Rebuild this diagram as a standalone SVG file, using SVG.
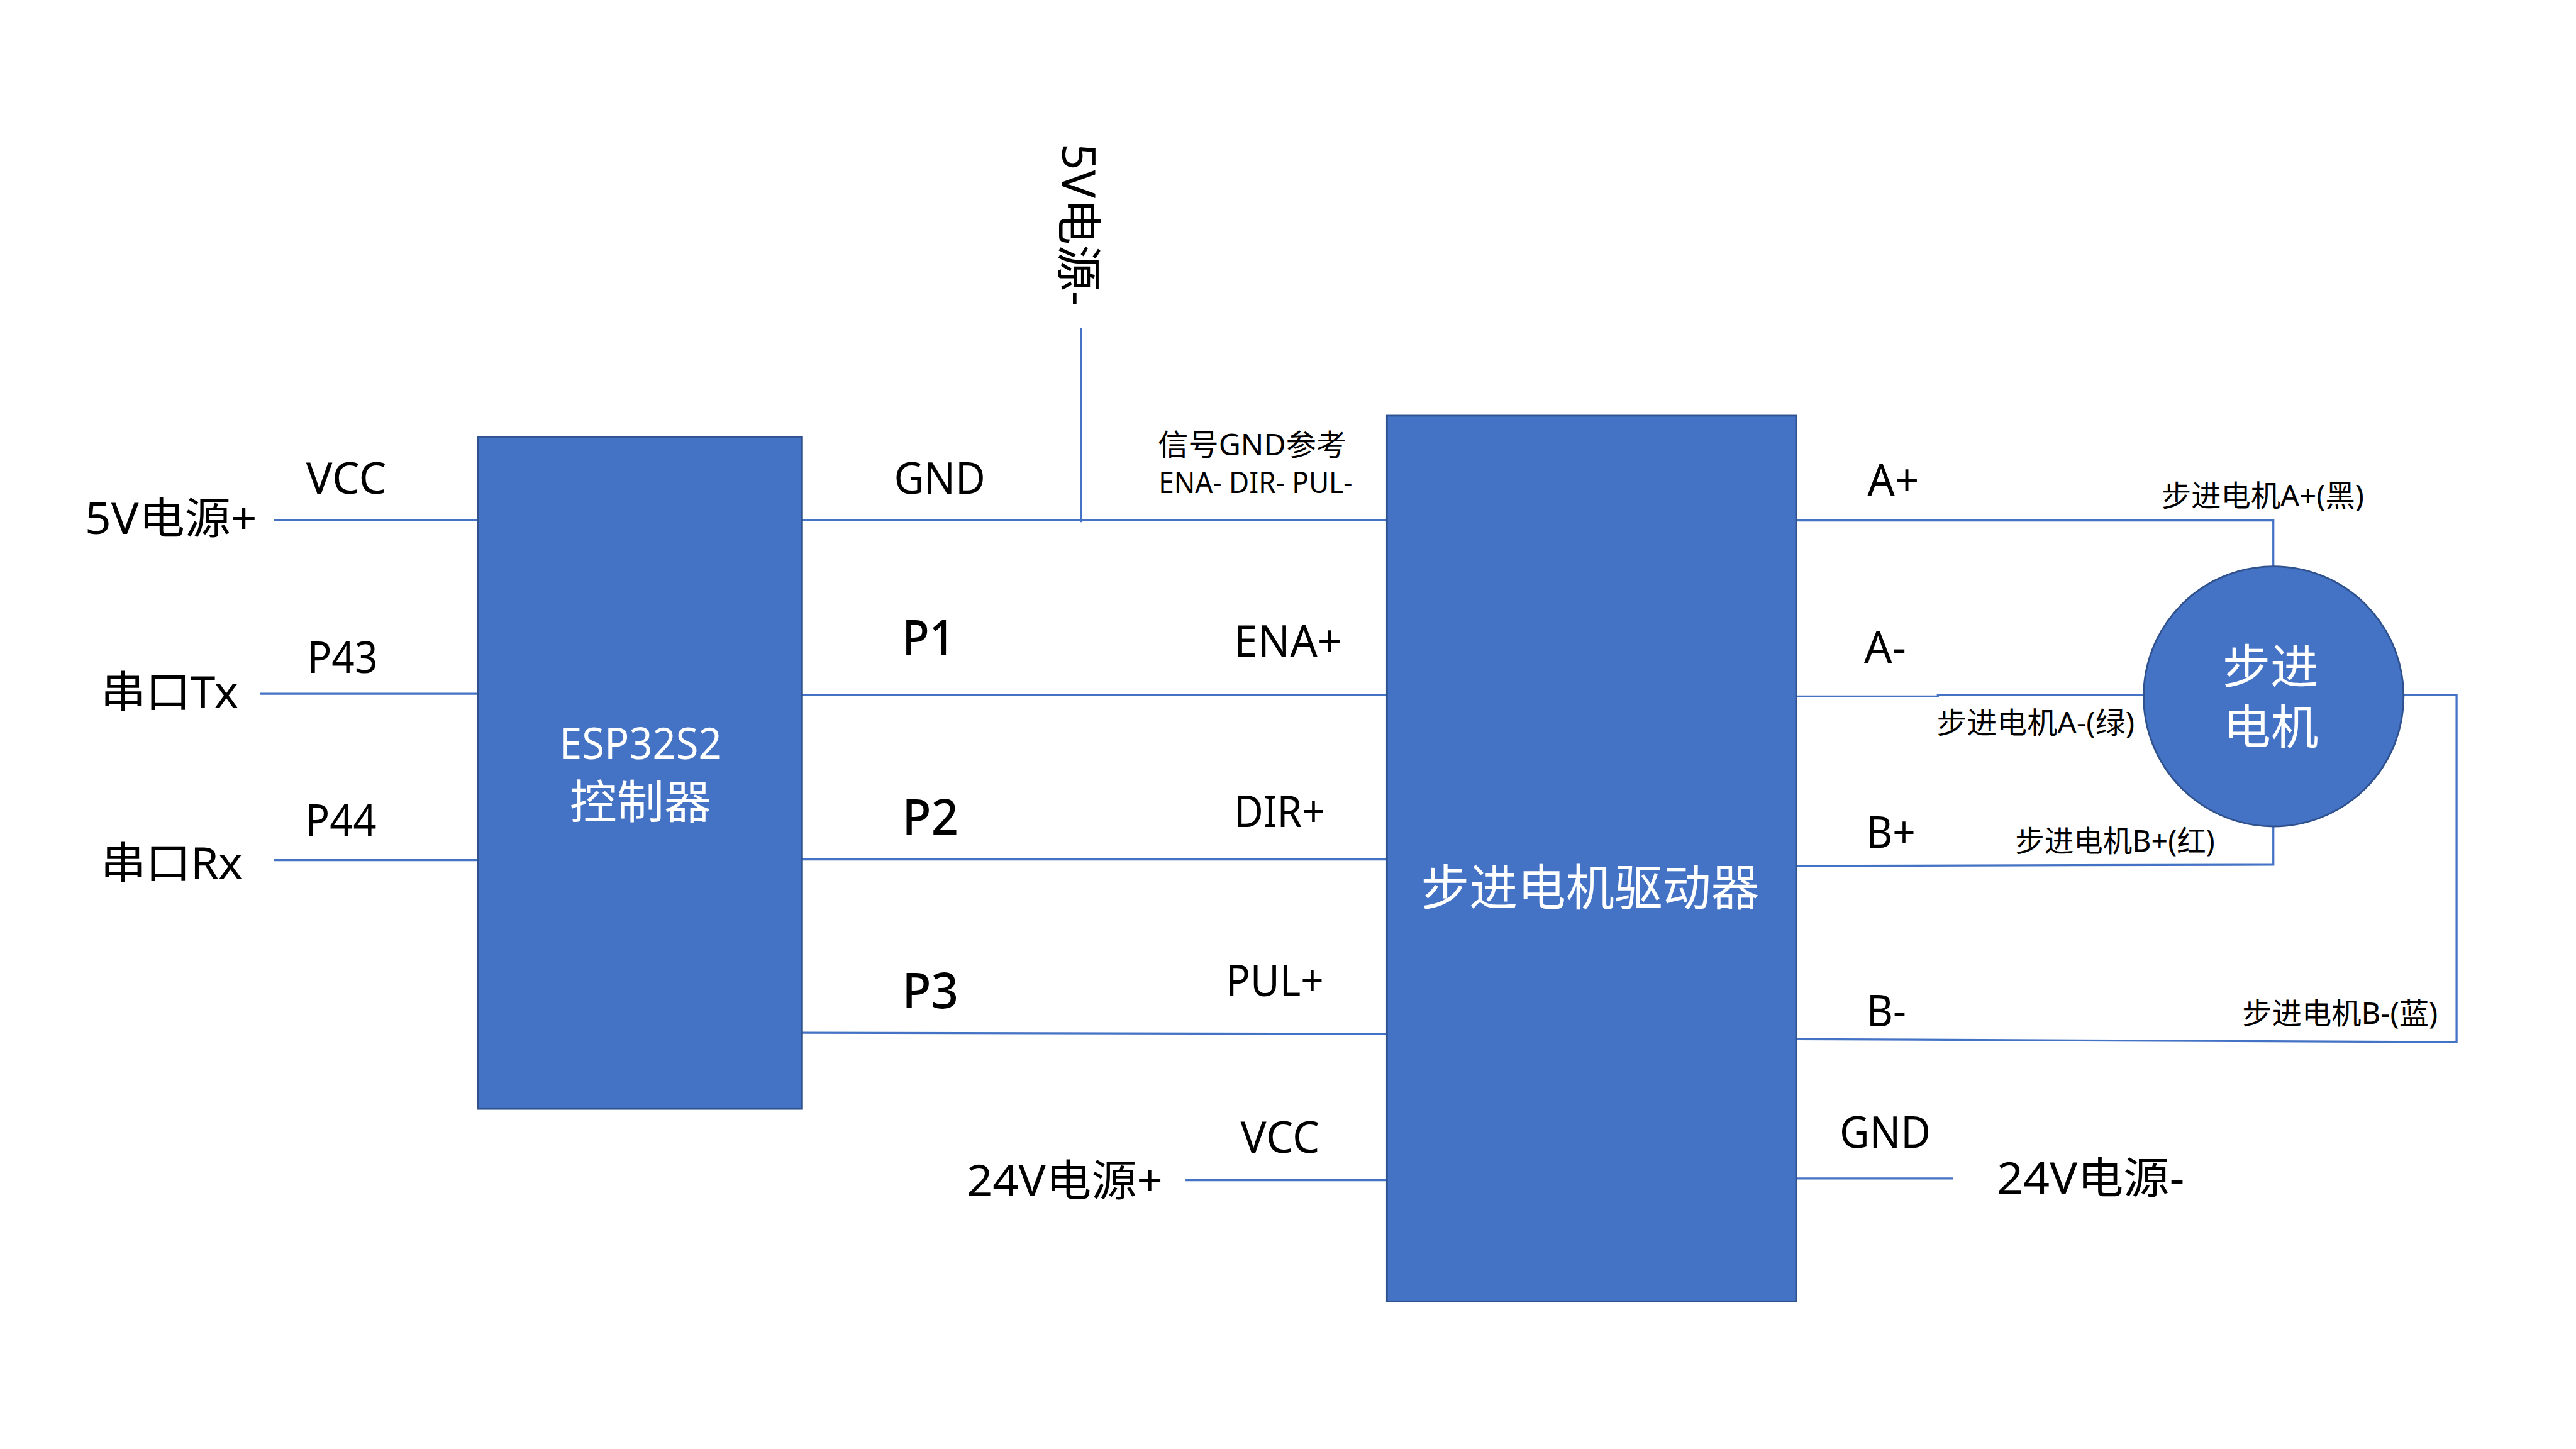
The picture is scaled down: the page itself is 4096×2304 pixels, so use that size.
<svg xmlns="http://www.w3.org/2000/svg" width="4096" height="2304" viewBox="0 0 4096 2304">
<style>
text{font-family:"Noto Sans","Noto Sans CJK SC",sans-serif;fill:#000}
.w{fill:#fff}
.l{font-size:74px}
.p{font-size:84px;font-weight:500}
.s{font-size:50px}
.box{fill:#4472C4;stroke:#2F528F;stroke-width:3}
.c{fill:none;stroke:#4472C4;stroke-width:3.5}
</style>
<rect width="4096" height="2304" fill="#fff"/>
<g transform="scale(0.93091)">
<g id="connectors">
<path class="c" d="M468 888H816"/>
<path class="c" d="M444 1185H816"/>
<path class="c" d="M468 1469H816"/>
<path class="c" d="M1370 888H2369"/>
<path class="c" d="M1847 560V892"/>
<path class="c" d="M1370 1187H2369"/>
<path class="c" d="M1370 1468H2369"/>
<path class="c" d="M1370 1764L2369 1766"/>
<path class="c" d="M2025 2016H2369"/>
<path class="c" d="M3068 889H3883V967"/>
<path class="c" d="M3068 1189.5H3310V1187H3662"/>
<path class="c" d="M3068 1479L3883 1477V1412"/>
<path class="c" d="M4105 1187H4196V1780L3068 1775"/>
<path class="c" d="M3068 2013H3336"/>
</g>
<g id="controller">
<rect class="box" x="816" y="746" width="554" height="1148"/>
<text class="l w" x="955" y="1297" textLength="278" lengthAdjust="spacingAndGlyphs">ESP32S2</text>
<text class="l w" x="973" y="1398" style="font-size:78px" textLength="242" lengthAdjust="spacingAndGlyphs">控制器</text>
</g>
<g id="driver">
<rect class="box" x="2369" y="710" width="699" height="1513"/>
<text class="l w" x="2427" y="1547" style="font-size:84px" textLength="578" lengthAdjust="spacingAndGlyphs">步进电机驱动器</text>
</g>
<g id="motor">
<circle class="box" cx="3883.5" cy="1189.5" r="222"/>
<text class="l w" x="3796" y="1168" style="font-size:80px" textLength="164" lengthAdjust="spacingAndGlyphs">步进</text>
<text class="l w" x="3798" y="1271" style="font-size:80px" textLength="162" lengthAdjust="spacingAndGlyphs">电机</text>
</g>
<g id="labels-left">
<text class="l" x="523" y="843" textLength="137" lengthAdjust="spacingAndGlyphs">VCC</text>
<text class="l" x="145" y="912" textLength="294" lengthAdjust="spacingAndGlyphs">5V电源+</text>
<text class="l" x="525" y="1149" textLength="120" lengthAdjust="spacingAndGlyphs">P43</text>
<text class="l" x="172" y="1208" textLength="235" lengthAdjust="spacingAndGlyphs">串口Tx</text>
<text class="l" x="521" y="1428" textLength="122" lengthAdjust="spacingAndGlyphs">P44</text>
<text class="l" x="172" y="1501" textLength="242" lengthAdjust="spacingAndGlyphs">串口Rx</text>
</g>
<g id="labels-middle">
<text class="l" style="font-size:78px" transform="translate(1814 245) rotate(90)" textLength="278" lengthAdjust="spacingAndGlyphs">5V电源-</text>
<text class="l" x="1527" y="843" textLength="156" lengthAdjust="spacingAndGlyphs">GND</text>
<text class="s" x="1978" y="778" textLength="322" lengthAdjust="spacingAndGlyphs">信号GND参考</text>
<text class="s" x="1979" y="842" textLength="331" lengthAdjust="spacingAndGlyphs">ENA- DIR- PUL-</text>
<text class="p" x="1541" y="1119" textLength="90" lengthAdjust="spacingAndGlyphs">P1</text>
<text class="l" x="2108" y="1122" textLength="184" lengthAdjust="spacingAndGlyphs">ENA+</text>
<text class="p" x="1541" y="1426" textLength="96" lengthAdjust="spacingAndGlyphs">P2</text>
<text class="l" x="2108" y="1413" textLength="155" lengthAdjust="spacingAndGlyphs">DIR+</text>
<text class="p" x="1541" y="1722" textLength="96" lengthAdjust="spacingAndGlyphs">P3</text>
<text class="l" x="2094" y="1702" textLength="167" lengthAdjust="spacingAndGlyphs">PUL+</text>
<text class="l" x="2119" y="1969" textLength="135" lengthAdjust="spacingAndGlyphs">VCC</text>
<text class="l" x="1651" y="2043" textLength="335" lengthAdjust="spacingAndGlyphs">24V电源+</text>
</g>
<g id="labels-right">
<text class="l" x="3190" y="846" textLength="88" lengthAdjust="spacingAndGlyphs">A+</text>
<text class="l" x="3184" y="1132" textLength="72" lengthAdjust="spacingAndGlyphs">A-</text>
<text class="l" x="3188" y="1448" textLength="84" lengthAdjust="spacingAndGlyphs">B+</text>
<text class="l" x="3188" y="1753" textLength="68" lengthAdjust="spacingAndGlyphs">B-</text>
<text class="l" x="3142" y="1960" textLength="156" lengthAdjust="spacingAndGlyphs">GND</text>
<text class="l" x="3411" y="2039" textLength="320" lengthAdjust="spacingAndGlyphs">24V电源-</text>
<text class="s" x="3692" y="865" textLength="346" lengthAdjust="spacingAndGlyphs">步进电机A+(黑)</text>
<text class="s" x="3308" y="1253" textLength="338" lengthAdjust="spacingAndGlyphs">步进电机A-(绿)</text>
<text class="s" x="3442" y="1454" textLength="341" lengthAdjust="spacingAndGlyphs">步进电机B+(红)</text>
<text class="s" x="3830" y="1749" textLength="334" lengthAdjust="spacingAndGlyphs">步进电机B-(蓝)</text>
</g>
</g>
</svg>
